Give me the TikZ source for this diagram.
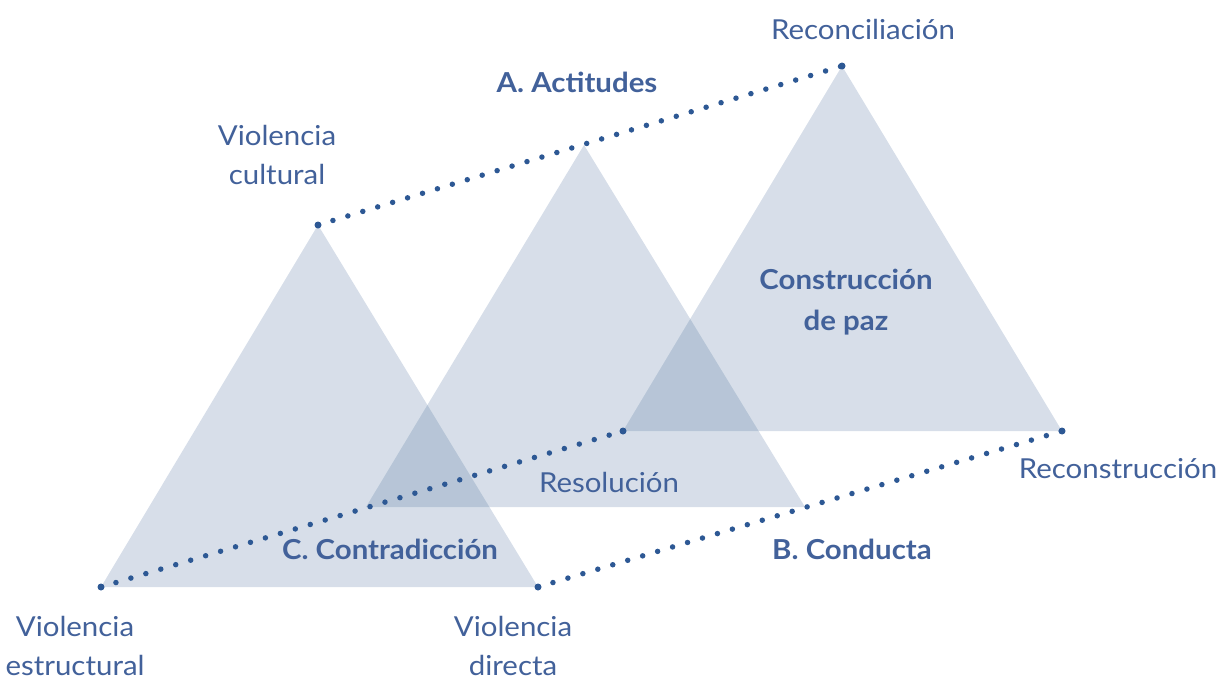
\documentclass[tikz,border=0pt]{standalone}
\usepackage{fontspec}
\setmainfont{Lato}[FakeStretch=1.07]
\definecolor{txt}{HTML}{42619A}
\definecolor{dotc}{HTML}{2D5894}
\definecolor{tri}{HTML}{476B99}
\begin{document}
\begin{tikzpicture}[x=1pt,y=-1pt,
  trishape/.style={fill=tri,fill opacity=0.22,draw=none},
  dotline/.style={draw=dotc,line width=5.5pt,line cap=round,dash pattern=on 0pt off 15.6pt},
  vdot/.style={circle,fill=dotc,inner sep=0pt,minimum size=7pt},
  lab/.style={text=txt,font=\fontsize{27.5}{39}\selectfont,align=center,inner sep=0pt},
  blab/.style={lab,font=\fontsize{27.5}{41}\selectfont\bfseries}]
\useasboundingbox (0,0) rectangle (1220,680);
% vertices
\coordinate (a1) at (318,225); \coordinate (b1) at (101,587); \coordinate (c1) at (538,587);
\coordinate (a2) at (584,145); \coordinate (b2) at (366,507); \coordinate (c2) at (805,507);
\coordinate (a3) at (842,66);  \coordinate (b3) at (623,431); \coordinate (c3) at (1062,431);
% triangles
\fill[trishape] (a1) -- (b1) -- (c1) -- cycle;
\fill[trishape] (a2) -- (b2) -- (c2) -- cycle;
\fill[trishape] (a3) -- (b3) -- (c3) -- cycle;
% dotted connectors
\draw[dotline] (a1) -- (a3);
\draw[dotline] (b1) -- (b3);
\draw[dotline] (c1) -- (c3);
\foreach \v in {a1,b1,c1,a3,b3,c3} \node[vdot] (d\v) at (\v) {};
% labels
\node[lab] (rec) at (863,29) {Reconciliación};
\node[blab] (act) at (577,82) {A. Actitudes};
\node[lab] (vcu) at (277,155) {Violencia\\cultural};
\node[blab] (cdp) at (846,302) {Construcción\\de paz};
\node[lab] (res) at (609,482) {Resolución};
\node[lab] (rcn) at (1118,469) {Reconstrucción};
\node[blab] (con) at (390,549) {C. Contradicción};
\node[blab] (cnd) at (852,549) {B. Conducta};
\node[lab] (ves) at (75,646) {Violencia\\estructural};
\node[lab] (vdi) at (513,646) {Violencia\\directa};
\end{tikzpicture}
\end{document}
